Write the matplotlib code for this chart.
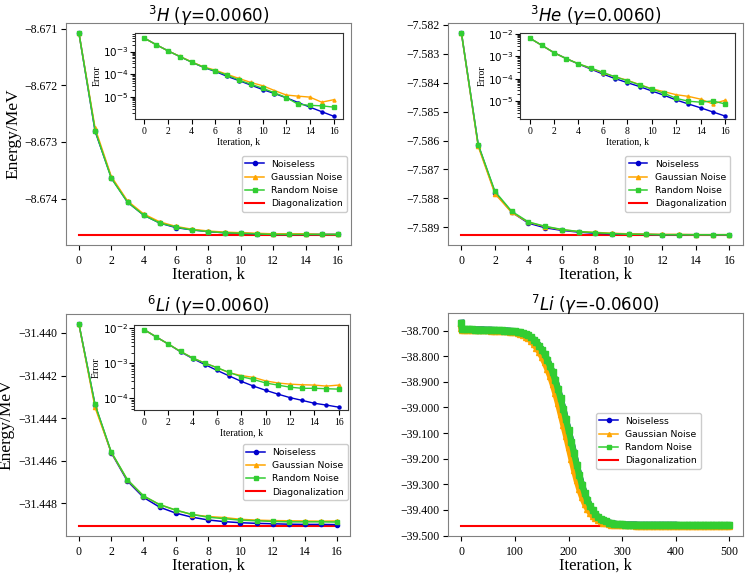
"""Energy convergence of noiseless / noisy runs vs exact diagonalization for four nuclei."""
import matplotlib
matplotlib.use("Agg")
import matplotlib.pyplot as plt
from matplotlib.ticker import ScalarFormatter, StrMethodFormatter

# --- Data ---

iters_16 = list(range(17))

# 3H
h3_noiseless = [-8.67108, -8.67281, -8.67363, -8.67406, -8.67429, -8.67443, -8.67451, -8.67455, -8.67458,
                -8.67460, -8.67461, -8.67462, -8.67463, -8.67463, -8.67463, -8.67463, -8.67463]
h3_gaussian = [-8.67108, -8.67276, -8.67361, -8.67404, -8.67427, -8.67441, -8.67449, -8.67454, -8.67457,
               -8.67459, -8.67460, -8.67461, -8.67462, -8.67462, -8.67462, -8.67463, -8.67463]
h3_random = [-8.67108, -8.67280, -8.67364, -8.67406, -8.67429, -8.67443, -8.67450, -8.67455, -8.67458,
             -8.67460, -8.67461, -8.67462, -8.67463, -8.67463, -8.67463, -8.67463, -8.67463]
h3_diag = -8.67464
h3_err_noiseless = [3.9e-3, 2.0e-3, 1.07e-3, 6.0e-4, 3.4e-4, 2.0e-4, 1.32e-4, 8.0e-5, 5.2e-5,
                    3.3e-5, 2.1e-5, 1.4e-5, 9.1e-6, 5.6e-6, 3.5e-6, 2.2e-6, 1.4e-6]
h3_err_gaussian = [3.9e-3, 2.0e-3, 1.07e-3, 6.1e-4, 3.5e-4, 2.1e-4, 1.5e-4, 9.8e-5, 6.5e-5,
                   4.3e-5, 3.1e-5, 1.9e-5, 1.2e-5, 1.07e-5, 9.7e-6, 5.8e-6, 7.4e-6]
h3_err_random = [3.9e-3, 2.0e-3, 1.07e-3, 6.0e-4, 3.4e-4, 2.05e-4, 1.38e-4, 9.1e-5, 5.5e-5,
                 3.6e-5, 2.4e-5, 1.5e-5, 9.3e-6, 4.7e-6, 4.2e-6, 4.0e-6, 3.5e-6]

# 3He
he3_noiseless = [-7.58228, -7.58615, -7.58780, -7.58848, -7.58886, -7.58902, -7.58911, -7.58917, -7.58921,
                 -7.58923, -7.58924, -7.58925, -7.58926, -7.58926, -7.58926, -7.58927, -7.58927]
he3_gaussian = [-7.58228, -7.58620, -7.58784, -7.58849, -7.58883, -7.58898, -7.58909, -7.58915, -7.58918,
                -7.58921, -7.58923, -7.58924, -7.58925, -7.58925, -7.58926, -7.58926, -7.58926]
he3_random = [-7.58228, -7.58614, -7.58776, -7.58845, -7.58882, -7.58897, -7.58908, -7.58915, -7.58919,
              -7.58922, -7.58924, -7.58925, -7.58926, -7.58926, -7.58926, -7.58926, -7.58926]
he3_diag = -7.58927
he3_err_noiseless = [6.6e-3, 3.1e-3, 1.45e-3, 7.9e-4, 4.5e-4, 2.7e-4, 1.6e-4, 1.0e-4, 6.6e-5,
                     4.4e-5, 2.8e-5, 1.8e-5, 1.1e-5, 7.3e-6, 4.9e-6, 3.2e-6, 2.1e-6]
he3_err_gaussian = [6.6e-3, 3.1e-3, 1.45e-3, 7.9e-4, 4.6e-4, 2.9e-4, 1.8e-4, 1.2e-4, 8.5e-5,
                    5.4e-5, 3.5e-5, 2.6e-5, 1.9e-5, 1.6e-5, 1.2e-5, 7.3e-6, 1.07e-5]
he3_err_random = [6.6e-3, 3.1e-3, 1.45e-3, 7.9e-4, 4.6e-4, 3.0e-4, 1.9e-4, 1.2e-4, 8.1e-5,
                  5.3e-5, 3.4e-5, 2.2e-5, 1.3e-5, 9.7e-6, 8.8e-6, 1.0e-5, 7.3e-6]

# 6Li
li6_noiseless = [-31.43958, -31.44338, -31.44562, -31.44695, -31.44772, -31.44818, -31.44846, -31.44865,
                 -31.44878, -31.44886, -31.44891, -31.44894, -31.44896, -31.44898, -31.44899, -31.44899,
                 -31.44900]
li6_gaussian = [-31.43958, -31.44350, -31.44560, -31.44690, -31.44766, -31.44806, -31.44832, -31.44853,
                -31.44862, -31.44867, -31.44875, -31.44879, -31.44881, -31.44882, -31.44883, -31.44884,
                -31.44883]
li6_random = [-31.43958, -31.44336, -31.44558, -31.44689, -31.44765, -31.44806, -31.44832, -31.44852,
              -31.44865, -31.44872, -31.44879, -31.44882, -31.44885, -31.44887, -31.44887, -31.44887,
              -31.44888]
li6_diag = -31.44906
li6_err_noiseless = [9.1e-3, 5.6e-3, 3.5e-3, 2.1e-3, 1.35e-3, 9.1e-4, 6.2e-4, 4.3e-4, 3.0e-4,
                     2.2e-4, 1.67e-4, 1.3e-4, 1.03e-4, 8.6e-5, 7.1e-5, 6.3e-5, 5.5e-5]
li6_err_gaussian = [9.1e-3, 5.6e-3, 3.5e-3, 2.15e-3, 1.4e-3, 1.0e-3, 7.4e-4, 5.3e-4, 4.4e-4,
                    3.9e-4, 3.1e-4, 2.7e-4, 2.5e-4, 2.4e-4, 2.35e-4, 2.2e-4, 2.35e-4]
li6_err_random = [9.1e-3, 5.6e-3, 3.5e-3, 2.15e-3, 1.4e-3, 1.0e-3, 7.4e-4, 5.4e-4, 4.1e-4,
                  3.4e-4, 2.7e-4, 2.35e-4, 2.05e-4, 1.9e-4, 1.9e-4, 1.85e-4, 1.8e-4]

# 7Li (sampled every 5 iterations, plus k=1)
li7_iters = [0, 1] + list(range(5, 501, 5))
li7_noiseless = [
    -38.670, -38.695,
    -38.695, -38.695, -38.695, -38.695, -38.696, -38.696, -38.696, -38.696, -38.697, -38.697,
    -38.697, -38.698, -38.698, -38.699, -38.699, -38.700, -38.700, -38.701, -38.702, -38.703,
    -38.705, -38.707, -38.710, -38.714, -38.719, -38.726, -38.735, -38.746, -38.759, -38.774,
    -38.792, -38.813, -38.837, -38.863, -38.893, -38.927, -38.965, -39.005, -39.047, -39.089,
    -39.133, -39.178, -39.223, -39.265, -39.303, -39.335, -39.362, -39.384, -39.402, -39.416,
    -39.427, -39.435, -39.441, -39.445, -39.449, -39.451, -39.453, -39.455, -39.456, -39.456,
    -39.457, -39.457, -39.457, -39.457, -39.457, -39.458, -39.458, -39.458, -39.458, -39.458,
    -39.458, -39.458, -39.458, -39.458, -39.458, -39.458, -39.458, -39.458, -39.458, -39.458,
    -39.459, -39.459, -39.459, -39.459, -39.459, -39.459, -39.459, -39.459, -39.459, -39.459,
    -39.459, -39.459, -39.459, -39.459, -39.459, -39.459, -39.459, -39.459, -39.459, -39.459,
]
li7_gaussian = [
    -38.690, -38.697,
    -38.697, -38.697, -38.697, -38.698, -38.698, -38.698, -38.698, -38.699, -38.699, -38.699,
    -38.700, -38.700, -38.701, -38.701, -38.702, -38.702, -38.703, -38.704, -38.705, -38.707,
    -38.709, -38.713, -38.718, -38.724, -38.731, -38.741, -38.753, -38.767, -38.783, -38.802,
    -38.824, -38.849, -38.876, -38.908, -38.944, -38.983, -39.025, -39.068, -39.110, -39.155,
    -39.200, -39.244, -39.285, -39.320, -39.350, -39.375, -39.395, -39.411, -39.424, -39.433,
    -39.440, -39.445, -39.449, -39.452, -39.455, -39.457, -39.458, -39.459, -39.459, -39.460,
    -39.460, -39.460, -39.460, -39.460, -39.461, -39.461, -39.461, -39.461, -39.461, -39.461,
    -39.461, -39.461, -39.461, -39.461, -39.461, -39.461, -39.461, -39.461, -39.461, -39.461,
    -39.461, -39.461, -39.461, -39.461, -39.461, -39.461, -39.461, -39.461, -39.461, -39.461,
    -39.461, -39.461, -39.461, -39.461, -39.461, -39.461, -39.461, -39.461, -39.461, -39.461,
]
li7_random = [
    -38.670, -38.695,
    -38.695, -38.695, -38.695, -38.695, -38.696, -38.696, -38.696, -38.696, -38.697, -38.697,
    -38.697, -38.698, -38.698, -38.699, -38.699, -38.700, -38.700, -38.701, -38.702, -38.703,
    -38.705, -38.707, -38.710, -38.714, -38.719, -38.726, -38.735, -38.746, -38.759, -38.774,
    -38.792, -38.813, -38.837, -38.863, -38.893, -38.927, -38.965, -39.005, -39.047, -39.089,
    -39.133, -39.178, -39.223, -39.265, -39.303, -39.335, -39.362, -39.384, -39.402, -39.416,
    -39.427, -39.435, -39.441, -39.445, -39.449, -39.451, -39.453, -39.455, -39.456, -39.456,
    -39.457, -39.457, -39.457, -39.457, -39.457, -39.458, -39.458, -39.458, -39.458, -39.458,
    -39.458, -39.458, -39.458, -39.458, -39.458, -39.458, -39.458, -39.458, -39.458, -39.458,
    -39.459, -39.459, -39.459, -39.459, -39.459, -39.459, -39.459, -39.459, -39.459, -39.459,
    -39.459, -39.459, -39.459, -39.459, -39.459, -39.459, -39.459, -39.459, -39.459, -39.459,
]
li7_diag = -39.462

series_labels = ["Noiseless", "Gaussian Noise", "Random Noise"]
series_colors = ["mediumblue", "orange", "limegreen"]
series_markers = ["o", "^", "s"]

SERIF = ["Liberation Serif", "DejaVu Serif"]

plt.rcParams["font.family"] = "DejaVu Sans"
plt.rcParams["mathtext.fontset"] = "dejavusans"


def draw_main(ax, iters, series, diag, title, ms=3.0, lw=1.1):
    for values, label, color, marker in zip(series, series_labels, series_colors, series_markers):
        ax.plot(iters, values, color=color, marker=marker, markersize=ms, linewidth=lw, label=label)
    ax.plot([iters[0], iters[-1]], [diag, diag], color="red", linewidth=1.5,
            label="Diagonalization", zorder=1.5)
    ax.set_title(title, fontsize=12, y=1.0, pad=1)
    ax.set_xlabel("Iteration, k", fontfamily=SERIF, fontsize=12, labelpad=0)
    for spine in ax.spines.values():
        spine.set_color("gray")
    ax.tick_params(labelsize=8.5)
    ax.tick_params(axis="y", pad=2.5)


def draw_inset(fig, rect, iters, errors, log_lo, log_hi):
    ax = fig.add_axes(rect)
    for values, color, marker in zip(errors, series_colors, series_markers):
        ax.plot(iters, values, color=color, marker=marker, markersize=2.2, linewidth=1.0)
    ax.set_yscale("log")
    ax.set_ylim(10 ** log_lo, 10 ** log_hi)
    ax.set_xticks(range(0, 17, 2))
    ax.set_xlabel("Iteration, k", fontfamily=SERIF, fontsize=7, labelpad=1)
    ax.set_ylabel("Error", fontfamily=SERIF, fontsize=7, labelpad=1)
    ax.tick_params(axis="x", labelsize=7, pad=2)
    ax.tick_params(axis="y", labelsize=7.5, pad=1)
    for lab in ax.get_xticklabels():
        lab.set_fontfamily(SERIF)
    for spine in ax.spines.values():
        spine.set_color("#333333")
    return ax


fig = plt.figure(figsize=(7.48, 5.74), dpi=100)

ax_h3 = fig.add_axes([0.0882, 0.573, 0.381, 0.387])
ax_he3 = fig.add_axes([0.599, 0.573, 0.394, 0.387])
ax_li6 = fig.add_axes([0.0882, 0.0662, 0.380, 0.387])
ax_li7 = fig.add_axes([0.599, 0.0662, 0.394, 0.389])

draw_main(ax_h3, iters_16, [h3_noiseless, h3_gaussian, h3_random], h3_diag,
          r"$^{3}H$ ($\gamma$=0.0060)")
draw_main(ax_he3, iters_16, [he3_noiseless, he3_gaussian, he3_random], he3_diag,
          r"$^{3}He$ ($\gamma$=0.0060)")
draw_main(ax_li6, iters_16, [li6_noiseless, li6_gaussian, li6_random], li6_diag,
          r"$^{6}Li$ ($\gamma$=0.0060)")
draw_main(ax_li7, li7_iters, [li7_noiseless, li7_gaussian, li7_random], li7_diag,
          r"$^{7}Li$ ($\gamma$=-0.0600)", ms=4.0, lw=4.5)

for ax in (ax_h3, ax_he3, ax_li6):
    ax.set_xticks(range(0, 17, 2))
ax_li7.set_xticks(range(0, 501, 100))

# tick label formats differ between panels in the original
ax_h3.set_yticks([-8.671, -8.672, -8.673, -8.674])
ax_h3.yaxis.set_major_formatter(StrMethodFormatter("{x:.3f}"))
ax_he3.set_yticks([-7.582, -7.583, -7.584, -7.585, -7.586, -7.587, -7.588, -7.589])
ax_li6.set_yticks([-31.440, -31.442, -31.444, -31.446, -31.448])
for ax in (ax_he3, ax_li6):
    ax.yaxis.set_major_formatter(ScalarFormatter(useOffset=False))
ax_li7.set_yticks([-38.7, -38.8, -38.9, -39.0, -39.1, -39.2, -39.3, -39.4, -39.5])
ax_li7.yaxis.set_major_formatter(StrMethodFormatter("{x:.3f}"))

for ax in (ax_h3, ax_he3, ax_li6, ax_li7):
    for lab in ax.get_xticklabels() + ax.get_yticklabels():
        lab.set_fontfamily(SERIF)

ax_h3.set_ylabel("Energy/MeV", fontfamily=SERIF, fontsize=12.5)
ax_h3.yaxis.set_label_coords(-0.155, 0.5)
ax_li6.set_ylabel("Energy/MeV", fontfamily=SERIF, fontsize=12.5)
ax_li6.yaxis.set_label_coords(-0.18, 0.5)

legend_kw = dict(loc="lower right", fontsize=6.7, borderaxespad=0, handlelength=2.0,
                 labelspacing=0.45, framealpha=1.0)
ax_h3.legend(bbox_to_anchor=(0.986, 0.149), **legend_kw)
ax_he3.legend(bbox_to_anchor=(0.958, 0.149), **legend_kw)
ax_li6.legend(bbox_to_anchor=(0.992, 0.161), **legend_kw)
leg_li7 = ax_li7.legend(bbox_to_anchor=(0.858, 0.300), **legend_kw)
# the 7Li band is drawn thick; keep its legend keys like the others
for handle in leg_li7.legend_handles[:3]:
    handle.set_linewidth(1.1)
    handle.set_markersize(3.0)

draw_inset(fig, [0.1805, 0.7927, 0.278, 0.1498], iters_16,
           [h3_err_noiseless, h3_err_gaussian, h3_err_random], -5.98, -2.18)
draw_inset(fig, [0.695, 0.7927, 0.2874, 0.1498], iters_16,
           [he3_err_noiseless, he3_err_gaussian, he3_err_random], -5.81, -1.955)
draw_inset(fig, [0.1796, 0.2852, 0.286, 0.148], iters_16,
           [li6_err_noiseless, li6_err_gaussian, li6_err_random], -4.35, -1.92)

fig.savefig("out.png", dpi=100)
